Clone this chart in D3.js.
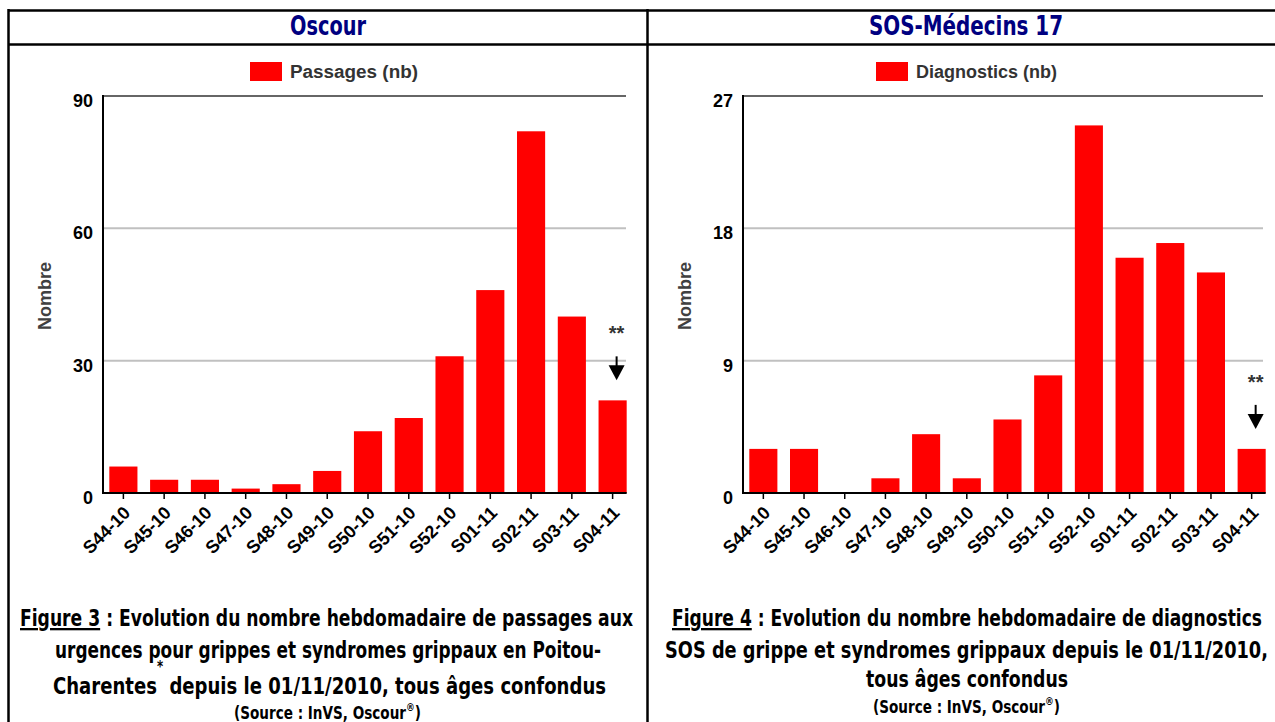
<!DOCTYPE html>
<html>
<head>
<meta charset="utf-8">
<script src="https://cdn.jsdelivr.net/npm/d3@7/dist/d3.min.js"></script>
<style>
  html, body { margin: 0; padding: 0; background: #fff; }
  svg { display: block; }
</style>
</head>
<body>
<svg id="chart" width="1275" height="722"></svg>
<script>
// ---------- DATA ----------
const categories = ["S44-10","S45-10","S46-10","S47-10","S48-10","S49-10","S50-10","S51-10","S52-10","S01-11","S02-11","S03-11","S04-11"];
const oscourValues = [6, 3, 3, 1, 2, 5, 14, 17, 31, 46, 82, 40, 21];
const sosValues    = [3, 3, 0, 1, 4, 1, 5, 8, 25, 16, 17, 15, 3];
const oscourTicks = [0, 30, 60, 90];
const sosTicks    = [0, 9, 18, 27];
const panelTitles = ["Oscour", "SOS-Médecins 17"];
const legendLabels = ["Passages (nb)", "Diagnostics (nb)"];
const yAxisLabel = "Nombre";

const NARROW = "'Liberation Sans Narrow','DejaVu Sans Condensed','Arial Narrow',sans-serif";
const SANS = "'Liberation Sans',Arial,sans-serif";

const svg = d3.select("#chart");

// ---------- TABLE FRAME ----------
const frame = svg.append("g").attr("stroke", "#000").attr("stroke-width", 2.5);
frame.append("line").attr("x1", 8).attr("x2", 1275).attr("y1", 10.5).attr("y2", 10.5);
frame.append("line").attr("x1", 8).attr("x2", 1275).attr("y1", 44.5).attr("y2", 44.5);
frame.append("line").attr("x1", 8.5).attr("x2", 8.5).attr("y1", 9).attr("y2", 722);
frame.append("line").attr("x1", 647.5).attr("x2", 647.5).attr("y1", 9).attr("y2", 722);

// ---------- PANELS ----------
const panels = [
  { title: panelTitles[0], titleX: 328, titleW: 76, legend: legendLabels[0], legX: 250, legW: 128,
    values: oscourValues, ticks: oscourTicks, x0: 103, x1: 633, frameRight: 626, nombreX: 45 },
  { title: panelTitles[1], titleX: 966, titleW: 194, legend: legendLabels[1], legX: 876, legW: 141,
    values: sosValues, ticks: sosTicks, x0: 743, x1: 1272, frameRight: 1263, nombreX: 685 }
];

const Y0 = 493, YTOP = 96;

panels.forEach(p => {
  const g = svg.append("g");

  // Title
  g.append("text")
    .attr("x", p.titleX).attr("y", 35)
    .attr("text-anchor", "middle")
    .attr("font-family", NARROW).attr("font-weight", "bold").attr("font-size", 26)
    .attr("fill", "#000080")
    .attr("textLength", p.titleW).attr("lengthAdjust", "spacingAndGlyphs")
    .text(p.title);

  // Legend
  g.append("rect").attr("x", p.legX).attr("y", 62).attr("width", 32).attr("height", 19).attr("fill", "#ff0000");
  g.append("text")
    .attr("x", p.legX + 40).attr("y", 78)
    .attr("font-family", SANS).attr("font-weight", "bold").attr("font-size", 18)
    .attr("fill", "#333")
    .attr("textLength", p.legW).attr("lengthAdjust", "spacingAndGlyphs")
    .text(p.legend);

  const x = d3.scaleBand().domain(categories).range([p.x0, p.x1])
    .paddingInner(0.31).paddingOuter(0.155);
  const yMax = p.ticks[p.ticks.length - 1];
  const y = d3.scaleLinear().domain([0, yMax]).range([Y0, YTOP]);

  // gridlines
  g.append("g").selectAll("line")
    .data(p.ticks.filter(t => t > 0 && t < yMax))
    .join("line")
    .attr("x1", p.x0).attr("x2", p.frameRight)
    .attr("y1", d => y(d)).attr("y2", d => y(d))
    .attr("stroke", "#c0c0c0").attr("stroke-width", 2);

  // top frame line
  g.append("line")
    .attr("x1", p.x0).attr("x2", p.frameRight)
    .attr("y1", y(yMax)).attr("y2", y(yMax))
    .attr("stroke", "#333").attr("stroke-width", 1.5);

  // bars
  g.append("g").selectAll("rect")
    .data(p.values)
    .join("rect")
    .attr("x", (d, i) => x(categories[i]))
    .attr("width", x.bandwidth())
    .attr("y", d => y(d))
    .attr("height", d => y(0) - y(d))
    .attr("fill", "#ff0000");

  // y axis line
  g.append("line")
    .attr("x1", p.x0).attr("x2", p.x0)
    .attr("y1", YTOP - 1).attr("y2", Y0 + 1)
    .attr("stroke", "#000").attr("stroke-width", 2);

  // y tick labels
  g.append("g").selectAll("text")
    .data(p.ticks)
    .join("text")
    .attr("x", p.x0 - 10)
    .attr("y", d => y(d))
    .attr("dy", "0.62em")
    .attr("text-anchor", "end")
    .attr("font-family", SANS).attr("font-weight", "bold").attr("font-size", 18)
    .attr("fill", "#000")
    .text(d => d);

  // x axis
  const xAxis = d3.axisBottom(x).tickSize(6).tickSizeOuter(0);
  const ax = g.append("g").attr("transform", `translate(0,${Y0})`).call(xAxis);
  ax.select(".domain").remove();
  ax.selectAll(".tick line").attr("stroke", "#000").attr("stroke-width", 1.5);
  ax.selectAll(".tick text")
    .attr("x", 0).attr("y", 0).attr("dy", 0)
    .attr("transform", "translate(8,21) rotate(-45)")
    .attr("text-anchor", "end")
    .attr("font-family", SANS).attr("font-weight", "bold").attr("font-size", 18)
    .attr("fill", "#000");
  const last = categories[categories.length - 1];
  g.append("line")
    .attr("x1", p.x0 - 1).attr("x2", x(last) + x.bandwidth())
    .attr("y1", Y0).attr("y2", Y0)
    .attr("stroke", "#000").attr("stroke-width", 2);

  // "Nombre"
  g.append("text")
    .attr("transform", `translate(${p.nombreX},296) rotate(-90)`)
    .attr("text-anchor", "middle").attr("dominant-baseline", "central")
    .attr("font-family", SANS).attr("font-weight", "bold").attr("font-size", 18)
    .attr("fill", "#404040")
    .attr("textLength", 68).attr("lengthAdjust", "spacingAndGlyphs")
    .text(yAxisLabel);

  // annotation ** + arrow above last bar
  const lastVal = p.values[p.values.length - 1];
  const ax0 = x(last) + x.bandwidth() / 2 + 4;
  const tip = y(lastVal) - 20;
  g.append("text")
    .attr("x", ax0).attr("y", tip - 40)
    .attr("text-anchor", "middle")
    .attr("font-family", SANS).attr("font-weight", "bold").attr("font-size", 20)
    .attr("fill", "#333")
    .text("**");
  g.append("line")
    .attr("x1", ax0).attr("x2", ax0).attr("y1", tip - 24).attr("y2", tip - 10)
    .attr("stroke", "#000").attr("stroke-width", 2);
  g.append("path")
    .attr("d", `M${ax0 - 8},${tip - 15} L${ax0 + 8},${tip - 15} L${ax0},${tip} Z`)
    .attr("fill", "#000");
});

// ---------- CAPTIONS ----------
function caption(cx, yb, w, size, parts) {
  const t = svg.append("text")
    .attr("x", cx).attr("y", yb)
    .attr("text-anchor", "middle")
    .attr("font-family", NARROW).attr("font-weight", "bold").attr("font-size", size)
    .attr("fill", "#000")
    .attr("textLength", w).attr("lengthAdjust", "spacingAndGlyphs");
  parts.forEach(pt => {
    const s = t.append("tspan").text(pt.text);
    if (pt.u) s.attr("text-decoration", "underline");
    if (pt.dy) s.attr("dy", pt.dy);
    if (pt.fs) s.attr("font-size", pt.fs);
  });
  return t;
}

// Left (Figure 3)
caption(326.5, 626, 613, 23, [{text: "Figure 3", u: true}, {text: " : Evolution du nombre hebdomadaire de passages aux"}]);
caption(328, 658, 546, 23, [{text: "urgences pour grippes et syndromes grippaux en Poitou-"}]);
caption(329.5, 694, 553, 23, [{text: "Charentes"}, {text: "*", dy: -22, fs: 15}, {text: "  depuis le 01/11/2010, tous âges confondus", dy: 22}]);
caption(327.5, 719, 187, 17, [{text: "(Source : InVS, Oscour"}, {text: "®", dy: -8, fs: 11}, {text: ")", dy: 8}]);

// Right (Figure 4)
caption(967, 626, 590, 23, [{text: "Figure 4", u: true}, {text: " : Evolution du nombre hebdomadaire de diagnostics"}]);
caption(966.5, 658, 603, 23, [{text: "SOS de grippe et syndromes grippaux depuis le 01/11/2010,"}]);
caption(967, 687, 202, 23, [{text: "tous âges confondus"}]);
caption(966.5, 713, 187, 17, [{text: "(Source : InVS, Oscour"}, {text: "®", dy: -8, fs: 11}, {text: ")", dy: 8}]);
</script>
</body>
</html>
